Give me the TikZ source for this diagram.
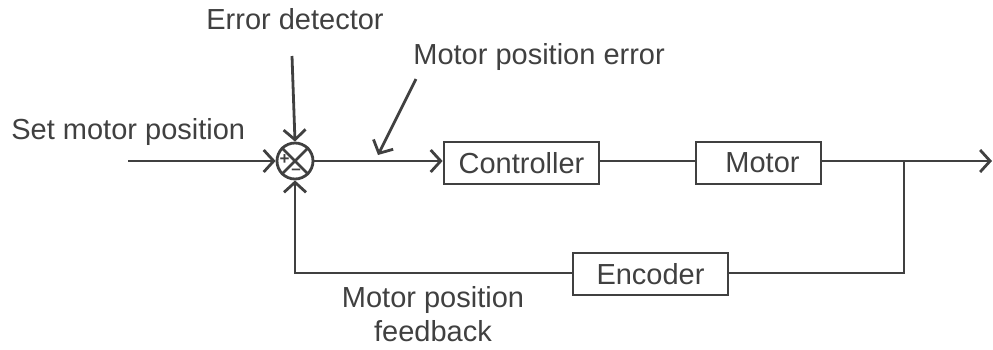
\documentclass[tikz,border=0pt]{standalone}
\usepackage{fontspec}
\setmainfont{Liberation Sans}
\usetikzlibrary{arrows.meta}
\definecolor{ink}{HTML}{404040}
\begin{document}
\begin{tikzpicture}[x=1pt,y=-1pt,
  line width=2.8pt, draw=ink, text=ink,
  every node/.style={font=\fontsize{29}{34}\selectfont, text=ink, inner sep=0pt},
  blk/.style={draw=ink, line width=2.8pt, minimum height=42pt, anchor=center},
  arr/.style={-{Straight Barb[length=10pt,width=22pt,line width=2.8pt]}},
  pm/.style={font=\bfseries\fontsize{17}{17}\selectfont}]
\useasboundingbox (0,0) rectangle (993,349);
% summing junction
\node[draw=ink, circle, minimum size=36pt, line width=2.8pt] (sum) at (295,161) {};
\draw (sum.north west) -- (sum.south east);
\draw (sum.north east) -- (sum.south west);
\node[pm] (plus) at (284.5,160) {+};
\node[pm] (minus) at (296,172) {\textendash};
% blocks
\node[blk, minimum width=155pt] (ctrl) at (521.5,163) {Controller};
\node[blk, minimum width=125pt] (motor) at (758.5,163) {\hspace*{8pt}Motor};
\node[blk, minimum width=155pt] (enc) at (650.5,274) {Encoder};
% labels
\node[anchor=west] (setp) at (10,132) {Set motor position};
\node (errdet) at (295,19) {Error detector};
\node[anchor=west] (mperr) at (412,57) {Motor position error};
\node[align=center] (fb) at (433,314) {Motor position\\feedback};
% coordinates
\coordinate (in) at (128,161);
\coordinate (out) at (992,161);
\coordinate (br) at (904,161);
\coordinate (brd) at (904,273);
\coordinate (fbl) at (295,273);
\coordinate (edtail) at (292,56);
\coordinate (mptail) at (416,79);
\coordinate (mphead) at (378,155);
% connectors
\draw[arr] (in) -- (sum.west);
\draw[arr] (edtail) -- (sum.north);
\draw[arr] (sum.east) -- (sum.east -| ctrl.west);
\draw (ctrl.east |- sum.east) -- (motor.west |- sum.east);
\draw[arr] (motor.east |- sum.east) -- (out);
\draw (br) -- (brd) -- (enc.east |- brd);
\draw[arr] (enc.west |- fbl) -- (fbl) -- (sum.south);
\draw[arr] (mptail) -- (mphead);
\end{tikzpicture}
\end{document}
